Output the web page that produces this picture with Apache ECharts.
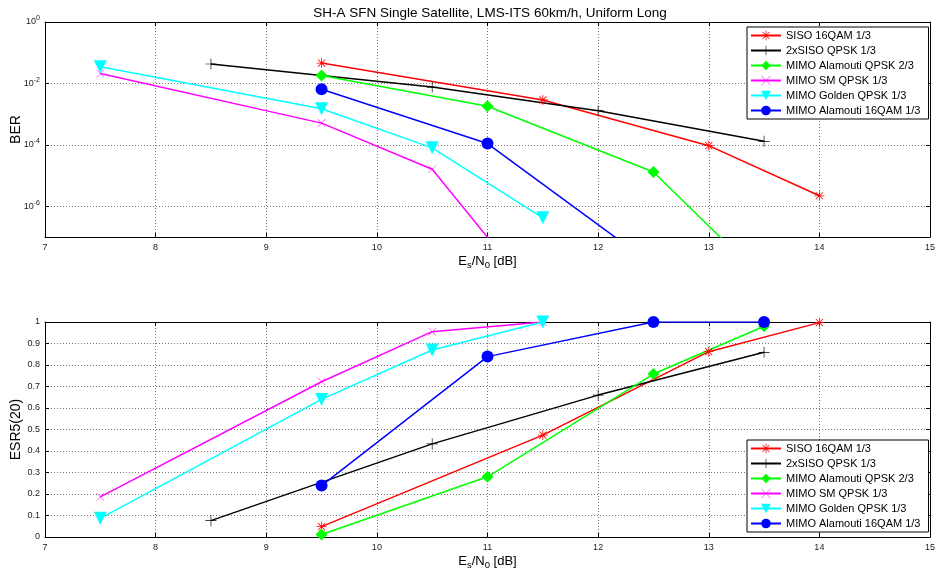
<!DOCTYPE html>
<html>
<head>
<meta charset="utf-8">
<script src="https://cdn.jsdelivr.net/npm/echarts@6/dist/echarts.min.js"></script>
<style>
  html, body { margin: 0; padding: 0; background: #fff; }
  #chart { width: 935px; height: 575px; }
</style>
</head>
<body>
<div id="chart"></div>
<script>
// Es/N0 points [dB] for each curve
const sisoX = [9.5, 11.5, 13, 14];
const sisoQpskX = [8.5, 10.5, 12, 13.5];
const alaQpskX = [9.5, 11, 12.5, 13.5];
const smX = [7.5, 9.5, 10.5, 11.5];
const goldenX = [7.5, 9.5, 10.5, 11.5];
const ala16X = [9.5, 11, 12.5, 13.5];

// BER (top plot), points below 1e-7 run off the bottom edge
const sisoBer = [4.6e-2, 2.9e-3, 9.4e-5, 2.2e-6];
const sisoQpskBer = [4.3e-2, 7.6e-3, 1.3e-3, 1.3e-4];
const alaQpskBer = [1.8e-2, 1.8e-3, 1.3e-5, 4e-9];
const smBer = [2.1e-2, 5.1e-4, 1.6e-5, 6e-10];
const goldenBer = [3.5e-2, 1.5e-3, 8e-5, 4.2e-7];
const ala16Ber = [6.5e-3, 1.1e-4, 1.2e-8, null];

// ESR5(20) (bottom plot)
const sisoEsr = [0.048, 0.474, 0.862, 0.997];
const sisoQpskEsr = [0.076, 0.433, 0.66, 0.859];
const alaQpskEsr = [0.012, 0.28, 0.758, 0.98];
const smEsr = [0.187, 0.722, 0.955, 1.0];
const goldenEsr = [0.087, 0.64, 0.87, 1.0];
const ala16Esr = [0.239, 0.839, 1.0, 1.0];

const names = ['SISO 16QAM 1/3', '2xSISO QPSK 1/3', 'MIMO Alamouti QPSK 2/3',
               'MIMO SM QPSK 1/3', 'MIMO Golden QPSK 1/3', 'MIMO Alamouti 16QAM 1/3'];
const berTicks = [1e-6, 1e-4, 1e-2, 1];

// matlab-ish markers
const starPath = 'path://M9.3,1h1.4v18h-1.4z M1,9.3h18v1.4h-18z M4.1,3.1l12.8,12.8l-1,1l-12.8,-12.8z M15.9,3.1l1,1l-12.8,12.8l-1,-1z';
const plusPath = 'path://M9.4,0h1.2v20h-1.2z M0,9.4h20v1.2h-20z';
const crossPath = 'path://M0.8,0l19.2,19.2l-0.8,0.8l-19.2,-19.2z M19.2,0l0.8,0.8l-19.2,19.2l-0.8,-0.8z';

const styles = [
  {color: '#ff0000', symbol: starPath, size: 10, rot: 0},
  {color: '#000000', symbol: plusPath, size: 11, rot: 0},
  {color: '#00ff00', symbol: 'diamond', size: 12, rot: 0},
  {color: '#ff00ff', symbol: crossPath, size: 8, rot: 0},
  {color: '#00ffff', symbol: 'triangle', size: 13, rot: 180},
  {color: '#0000ff', symbol: 'circle', size: 12, rot: 0}
];

const xs = [sisoX, sisoQpskX, alaQpskX, smX, goldenX, ala16X];
const bers = [sisoBer, sisoQpskBer, alaQpskBer, smBer, goldenBer, ala16Ber];
const esrs = [sisoEsr, sisoQpskEsr, alaQpskEsr, smEsr, goldenEsr, ala16Esr];

const FONT = 'Liberation Sans, Arial, Helvetica, sans-serif';

function pairs(x, y) {
  return x.map((v, i) => [v, y[i]]);
}

function makeSeries(values, axisIdx) {
  return names.map((n, i) => ({
    name: n,
    type: 'line',
    xAxisIndex: axisIdx,
    yAxisIndex: axisIdx,
    data: pairs(xs[i], values[i]),
    symbol: styles[i].symbol,
    symbolSize: styles[i].size,
    symbolRotate: styles[i].rot,
    showAllSymbol: true,
    lineStyle: {color: styles[i].color, width: 1.5},
    itemStyle: {color: styles[i].color},
    clip: true,
    animation: false
  }));
}

const gridLine = {show: true, lineStyle: {color: '#777', type: [1, 2], width: 1}};
const frameLine = {show: true, onZero: false, lineStyle: {color: '#000', width: 1}};
const tickIn = {inside: true, length: 4, lineStyle: {color: '#000'}};

function xAxisPair(gridIdx) {
  return [
    {
      type: 'value', gridIndex: gridIdx, min: 7, max: 15, interval: 1, position: 'bottom',
      axisLine: frameLine,
      axisTick: tickIn,
      axisLabel: {color: '#222', fontSize: 9, fontFamily: FONT, margin: 6},
      splitLine: gridLine,
      name: '{a|E}{s|s}{a|/N}{s|0}{a| [dB]}',
      nameLocation: 'middle', nameGap: 16,
      nameTextStyle: {
        fontFamily: FONT, color: '#000',
        rich: {
          a: {fontSize: 13, fontFamily: FONT, color: '#000'},
          s: {fontSize: 9.5, fontFamily: FONT, color: '#000', padding: [7, 0, 0, 0]}
        }
      }
    },
    {
      type: 'value', gridIndex: gridIdx, min: 7, max: 15, interval: 1, position: 'top',
      axisLine: frameLine,
      axisTick: tickIn,
      axisLabel: {show: false},
      splitLine: {show: false}
    }
  ];
}

function legendAt(top) {
  return {
    data: names, orient: 'vertical', left: 747, top: top,
    backgroundColor: '#fff', borderColor: '#000', borderWidth: 1,
    padding: [3, 8, 3, 3], itemGap: 4, itemWidth: 30, itemHeight: 12,
    textStyle: {fontFamily: FONT, fontSize: 11, color: '#000'}
  };
}

const option = {
  backgroundColor: '#fff',
  animation: false,
  title: {
    text: 'SH-A SFN Single Satellite, LMS-ITS 60km/h, Uniform Long',
    left: 485, top: 1, textAlign: 'center',
    textStyle: {fontFamily: FONT, fontSize: 13.5, fontWeight: 'normal', color: '#000'}
  },
  grid: [
    {left: 45, right: 5, top: 22, height: 215, outerBoundsMode: 'none'},
    {left: 45, right: 5, top: 322, height: 215, outerBoundsMode: 'none'}
  ],
  legend: [legendAt(27), legendAt(440)],
  xAxis: [].concat(xAxisPair(0), xAxisPair(1)),
  yAxis: [
    {
      type: 'log', logBase: 10, gridIndex: 0, min: 1e-7, max: 1, position: 'left',
      axisLine: frameLine,
      axisTick: Object.assign({customValues: berTicks}, tickIn),
      axisLabel: {
        customValues: berTicks,
        color: '#222', fontFamily: FONT, margin: 5,
        formatter: v => '{b|10}{p|' + Math.round(Math.log10(v)) + '}',
        rich: {
          b: {fontSize: 9, fontFamily: FONT, color: '#222'},
          p: {fontSize: 7, fontFamily: FONT, color: '#222', padding: [0, 0, 7, 0]}
        }
      },
      splitLine: gridLine,
      name: 'BER', nameLocation: 'middle', nameGap: 22, nameMoveOverlap: false,
      nameTextStyle: {fontFamily: FONT, fontSize: 14, color: '#000'}
    },
    {
      type: 'log', logBase: 10, gridIndex: 0, min: 1e-7, max: 1, position: 'right',
      axisLine: frameLine,
      axisTick: Object.assign({customValues: berTicks}, tickIn),
      axisLabel: {show: false},
      splitLine: {show: false}
    },
    {
      type: 'value', gridIndex: 1, min: 0, max: 1, interval: 0.1, position: 'left',
      axisLine: frameLine,
      axisTick: tickIn,
      axisLabel: {color: '#222', fontSize: 9, fontFamily: FONT, margin: 5},
      splitLine: gridLine,
      name: 'ESR5(20)', nameLocation: 'middle', nameGap: 22, nameMoveOverlap: false,
      nameTextStyle: {fontFamily: FONT, fontSize: 14, color: '#000'}
    },
    {
      type: 'value', gridIndex: 1, min: 0, max: 1, interval: 0.1, position: 'right',
      axisLine: frameLine,
      axisTick: tickIn,
      axisLabel: {show: false},
      splitLine: {show: false}
    }
  ],
  series: [].concat(makeSeries(bers, 0), makeSeries(esrs, 2).map(s => {
    s.xAxisIndex = 2;
    s.yAxisIndex = 2;
    return s;
  }))
};

const chart = echarts.init(document.getElementById('chart'));
chart.setOption(option);
</script>
</body>
</html>
